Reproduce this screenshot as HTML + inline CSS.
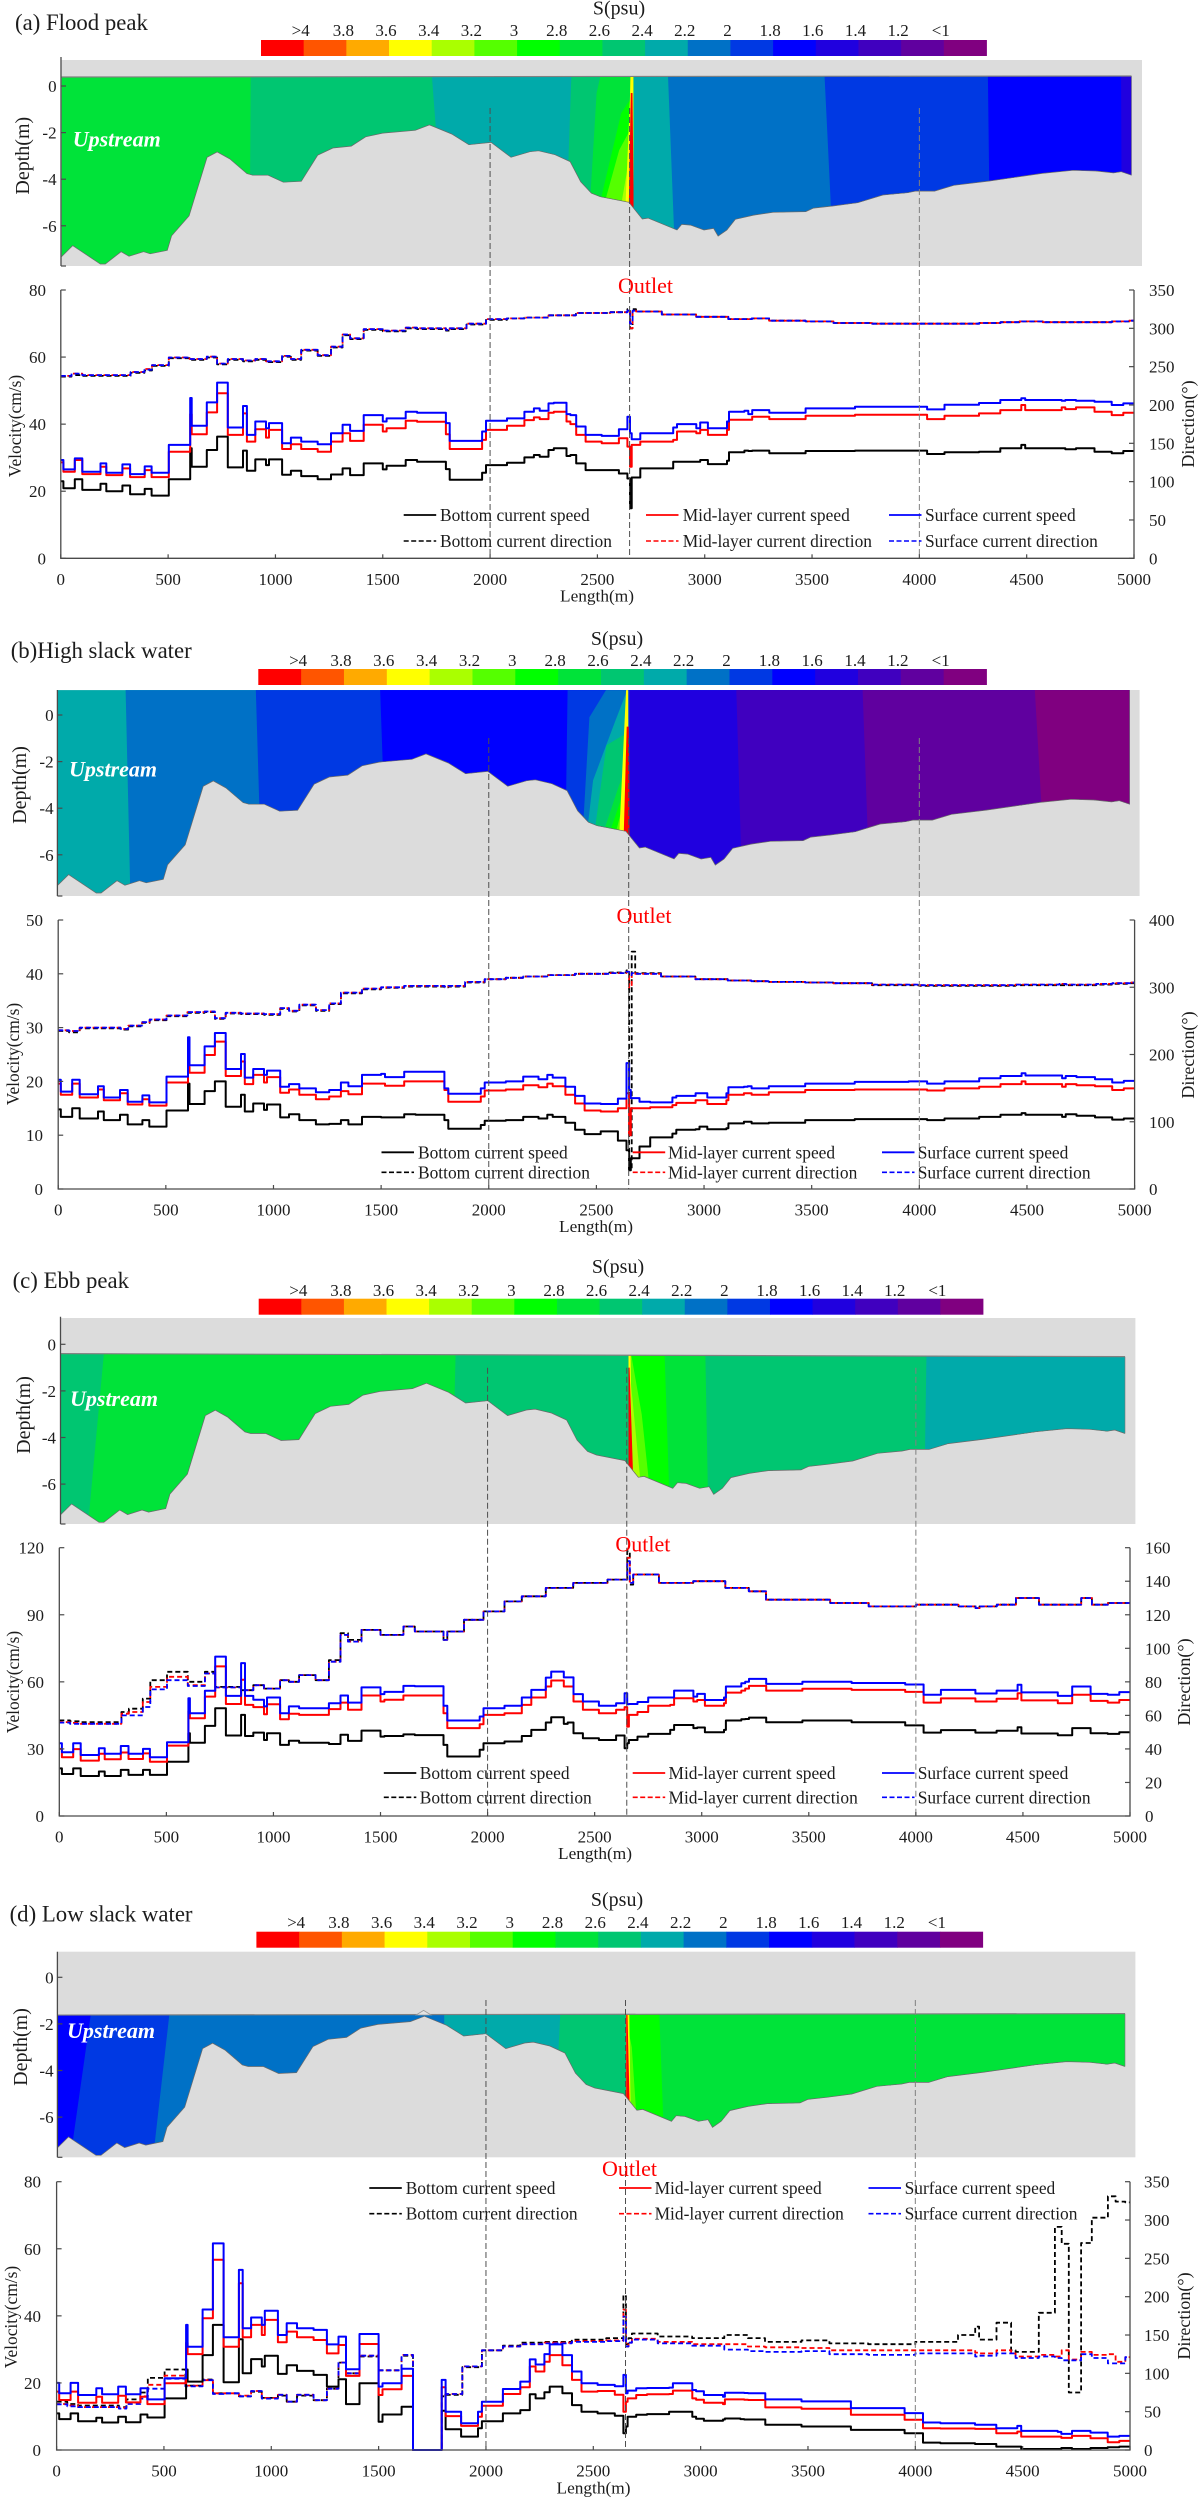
<!DOCTYPE html>
<html lang="en">
<head>
<meta charset="utf-8">
<title>Salinity section and current profiles along the channel</title>
<style>
html,body{margin:0;padding:0;background:#fff;}
#figure{display:block;width:1203px;height:2500px;filter:blur(0.35px);}
text{font-family:"Liberation Serif","Times New Roman",serif;fill:#1c1c1c;}
</style>
</head>
<body>
<svg id="figure" xmlns="http://www.w3.org/2000/svg" width="1203" height="2500" viewBox="0 0 1203 2500"></svg>
<script>
/* ---------- shared category and tick arrays ---------- */
const lengthTicks=[0,500,1000,1500,2000,2500,3000,3500,4000,4500,5000];
const depthTicks=[0,-2,-4,-6];
const guideLengths=[2000,2650,4000];
const salinityLabels=['>4','3.8','3.6','3.4','3.2','3','2.8','2.6','2.4','2.2','2','1.8','1.6','1.4','1.2','<1'];
const salinityColors=['#ff0000','#ff5500','#ffaa00','#ffff00','#aaff00','#55ff00','#00ff00','#00e339','#00c671','#00aaaa','#0071c6','#0039e3','#0000ff','#2000df','#4000bf','#60009f','#800080'];
const legendSpeedLabels=['Bottom current speed','Mid-layer current speed','Surface current speed'];
const legendDirLabels=['Bottom current direction','Mid-layer current direction','Surface current direction'];

/* ---------- channel bed profile (length m, depth m) ---------- */
const bedLengths=[0,52,181,204,278,315,383,414,494,514,596,680,727,786,866,893,965,1036,1120,1197,1268,1354,1421,1501,1653,1719,1823,1903,2007,2100,2189,2229,2306,2377,2426,2476,2517,2651,2714,2741,2876,2898,2939,3002,3047,3068,3109,3149,3235,3325,3478,3514,3604,3721,3838,3954,3990,4080,4170,4332,4583,4727,4834,4916,4952,5000];
const bedDepths=[-7.32,-6.85,-7.64,-7.64,-7.11,-7.31,-7.11,-7.2,-7.05,-6.43,-5.57,-3.06,-2.83,-3.13,-3.76,-3.83,-3.83,-4.13,-4.09,-2.97,-2.66,-2.58,-2.18,-2.02,-1.9,-1.67,-2.06,-2.52,-2.42,-3.06,-2.82,-2.78,-2.95,-3.25,-4.11,-4.6,-4.75,-4.99,-5.71,-5.67,-6.18,-5.94,-5.97,-6.18,-6.11,-6.44,-6.18,-5.72,-5.54,-5.42,-5.39,-5.24,-5.15,-5.01,-4.68,-4.58,-4.51,-4.51,-4.26,-4.08,-3.75,-3.62,-3.65,-3.73,-3.68,-3.83];

/* ---------- salinity zones: [colour level, top length, bottom length] or [colour level, [length, depth, ...]] ---------- */
const zonesA=[[7,0,0],[8,884,878],[9,1725,1800],[8,2385,2350],
 [7,[2535,1.1,2500,-0.3,2466,-5.5,2680,-5.5,2680,1.1]],
 [6,[2615,-1.17,2516,-5,2646,-5.2,2656,-0.6]],
 [5,[2606,-2.75,2538,-5,2642,-5.2,2650,-2]],
 [4,[2646,-3.46,2615,-5.1,2650,-5.1]],
 [3,[2660,1.1,2672,1.1,2672,-5.2,2635,-5.2,2656,-0.6]],
 [0,[2660,-0.3,2668,-0.3,2674,-5.6,2650,-5.6]],
 [9,2673,2673],[10,2831,2870],[11,3562,3610],[12,4328,4340],[13,4951,4955]];
const zonesB=[[9,0,0],[10,318,341],[11,925,955],[12,1505,1540],[11,2379,2365],
 [10,[2481,-0.1,2450,-5,2660,-5.4,2660,1.1,2560,1.1]],
 [9,[2498,-2.8,2470,-5,2650,-5.4,2650,0.9,2600,-0.3]],
 [8,[2560,-1.3,2505,-5,2650,-5.4,2650,-0.8]],
 [7,[2620,-3,2540,-5.2,2650,-5.4,2645,-2.5]],
 [6,[2625,-3.7,2570,-5.2,2650,-5.4,2645,-3.3]],
 [5,[2630,-4.1,2600,-5.2,2650,-5.4]],
 [3,[2652,1.1,2662,1.1,2664,-5.5,2620,-5.2]],
 [0,[2655,-0.5,2664,-0.5,2672,-5.7,2640,-5.5]],
 [13,2668,2668],[14,3166,3195],[15,3755,3790],[16,4558,4615]];
const zonesC=[[8,0,0],[7,219,127],[8,1860,1835],[6,2680,2680],[7,2832,2865],[8,3026,3044],[9,4070,4055],
 [5,[2672,0,2668,-5.8,2765,-6,2730,-3]],
 [4,[2672,-1,2668,-5.8,2725,-6]],
 [3,[2668,1.1,2676,1.1,2684,-5.7,2668,-5.6]],
 [0,[2668,-1,2673,-1,2690,-5.8,2668,-5.7]]];
const zonesD=[[12,0,0],[11,198,57],[10,558,445],[9,1810,1815],[8,2370,2320],[6,2676,2676],[7,2808,2845],
 [5,[2668,-2,2664,-5.4,2712,-6,2690,-3]],
 [3,[2662,0,2676,0,2684,-5.5,2664,-5.3]],
 [0,[2664,-1.6,2670,-1.6,2680,-5.4,2664,-5.3]]];
/* bed crest poking above the low-water surface in panel (d): length, depth pairs */
const crestOutlineD=[1680,-1.62,1715,-1.42,1750,-1.62];

/* ---------- along-channel sample positions ---------- */
const speedLengths=[0,12,65,100,185,212,287,323,391,423,
503,603,610,680,728,778,849,867,906,956,
970,1031,1072,1120,1197,1259,1313,1348,1411,1500,
1518,1607,1660,1794,1812,1884,1963,1981,2079,2160,2204,2231,
2272,2297,2356,2374,2401,2445,2520,2600,2640,2652,
2660,2700,2750,2853,2871,2961,2979,3015,3104,3113,
3185,3203,3221,3301,3470,3700,3950,4036,4117,4278,
4377,4475,4493,4663,4680,4730,4816,4896,4950,5000];
const dirLengths=[0,50,100,290,325,390,425,503,600,680,
728,778,849,906,956,1031,1072,1120,1197,1259,
1313,1348,1411,1500,1607,1660,1794,1812,1890,1981,2079,
2160,2272,2400,2560,2640,2652,2664,2680,2800,2960,
3110,3220,3300,3470,3600,3780,4000,4199,4279,4297,
4378,4446,4467,4575,4650,4682,4715,4772,4822,4897,
4933,4978,5000];

/* ---------- (a) flood peak ---------- */
const velTicksA=[0,20,40,60,80];
const dirTicksA=[0,50,100,150,200,250,300,350];
const bottomSpeedA=[23,20.9,23.6,20.4,22.2,20,21.7,19.1,20.7,18.7,
23.6,32.8,27.3,32.3,36.3,27.1,32.1,26.1,29.5,27.8,
29.5,24.9,26.1,24.5,23.6,25,26.8,24.8,28.3,26.5,
27.6,29.3,28.8,26.6,23.4,23.4,25.5,27.8,28.5,30.1,30.8,30.3,
32.3,32.8,30.5,30.8,28.3,26.3,26.3,25.3,23.8,14.9,
24.1,26.8,26.8,28.8,28.8,28.8,29.3,28.1,29.1,31.6,
32.1,32,32.1,31.3,32,32.1,32.1,31.1,31.6,31.8,
32.8,33.8,32.8,32.8,32.5,32.8,31.8,31.3,32,32];
const midSpeedA=[28.6,25.8,29.3,25.1,27.3,24.8,26.8,24.2,26.3,24.2,
31.8,43,37,43.5,49.2,36.8,43.2,34.8,38.5,36,
38.3,32.6,34,32.6,31.8,34.8,37.3,35,39.8,37.8,
38.8,41,40.7,37,32.6,32.6,35.3,38.3,39.5,41.2,42,41.5,
43.4,43.7,40.8,40,36.8,34.8,34.3,35.8,33.3,27.3,
33.8,34.8,34.8,35.3,37.8,37.3,38.3,36.8,38.3,41.3,
41.3,41.3,42.2,41.5,42.5,42.8,42.8,41.5,42.5,43.2,
44.2,45.7,44.2,45,44.5,45,43.7,42.7,43.4,43.4];
const surfaceSpeedA=[29.3,26.5,29.8,25.8,28.3,25.5,28,25.1,27.4,25.5,
33.8,47.8,39.5,46.5,52.4,39,45.4,36.8,40.8,38.8,
40.3,34.3,36,34.8,34,37.3,39.8,38,42.7,40.8,
41.7,43.7,43.4,40.3,35,35,37.8,41,41.7,43.7,44.7,44,
46.2,46.4,43,42.7,39.3,36.8,36.5,38.5,42.2,37.3,
35.5,37.3,37.3,39,40,38.8,40.5,38.8,40.8,43.7,
44,43,44.2,43.4,44.7,45.2,45.2,44.4,45.8,46.3,
47.2,47.7,47.2,47,47.2,47,46.7,45.7,46.2,46.2];
const bottomDirA=[237,239,238,238,242,245,251,261,259,262,
253,259,257,259,256,263,259,271,264,275,
291,286,298,296,300,299,297,299,305,311,313,
314,317,320,321,325,300,325,322,318,315,
312,313,310,309,307,306,306,306,307,307,
308,308,309,308,308,308,308,308,308,309,
309,310,310];
const midDirA=[238,241,239,239,243,247,252,262,260,263,
254,260,258,260,257,264,260,272,265,276,
292,287,299,297,301,300,298,300,306,312,313,
314,317,320,321,323,300,323,322,318,315,
312,313,310,309,307,306,306,306,307,307,
308,308,309,308,308,308,308,308,308,309,
309,310,310];
const surfaceDirA=[238,241,239,239,243,246,252,262,260,263,
254,260,258,260,257,264,260,272,265,276,
292,287,299,297,301,300,298,300,306,312,313,
314,317,320,321,323,306,323,322,318,315,
312,313,310,309,307,306,306,306,307,307,
308,308,309,308,308,308,308,308,308,309,
309,310,310];

/* ---------- (b) high slack water ---------- */
const velTicksB=[0,10,20,30,40,50];
const dirTicksB=[0,100,200,300,400];
const bottomSpeedB=[14.8,13.4,15,13.1,14.4,12.8,13.8,12,12.8,11.6,
14.6,19.6,15.8,18.2,20,15.3,17.5,14.4,15.9,14.7,
15.7,13.3,13.9,12.8,12,12.1,12.8,12,13.4,13.3,
13.3,13.9,13.8,12.8,11.2,11.2,11.9,12.7,12.8,13.4,13.4,13.1,
13.8,13.4,12.3,12.3,11,10.2,10.7,9,7.2,3.5,
5.7,7.9,9.6,10.3,11,11.1,11.6,11.1,11.3,12.2,
12.5,12.5,12.2,12.3,12.8,13,13,12.8,13.1,13.4,
13.8,14.1,13.8,13.4,13.9,13.6,13.3,12.9,13.1,13.1];
const midSpeedB=[19.6,17.5,19.6,17,18.5,16.5,17.8,15.7,16.7,15.5,
19.8,22.7,21.6,24.9,27.4,21,23.7,19.5,21.2,19.8,
20.8,17.9,18.5,17.5,16.7,17.2,18.2,17.6,19.6,19.6,
19.2,20,20,18.4,16.2,16.2,17.2,18.3,18.5,19.3,19.3,18.9,
19.6,19.1,17.5,17.5,15.9,14.6,14.4,15,17.8,10,
15,15,15.2,15.6,16,16.5,16.5,15.8,16.5,17.5,
17.8,17.8,17.5,18,18.4,18.5,18.5,18.3,18.7,19,
19.5,20,19.5,19,19.5,19.3,19.1,18.4,18.7,18.7];
const surfaceSpeedB=[20.3,18.1,20.3,17.6,19.1,17,18.4,16.2,17.4,16.1,
20.9,28.2,23,26.5,29,22.3,25.1,20.7,22.3,21.2,
22,19,19.5,18.7,18,18.4,19.8,19.1,21.2,21.4,
20.8,21.8,21.8,18.7,17.7,17.7,18.7,19.8,20,20.9,20.9,20.4,
21.2,20.7,19,19,17.3,15.9,15.8,16.8,23.4,18.4,
16.9,16.2,16.1,17,17.3,17.8,17.8,17,17.8,18.9,
19,19.1,18.7,19.1,19.6,19.9,20,19.6,20,20.6,
21,21.5,21.1,20.6,21,20.8,20.4,19.8,20.1,20.1];
const bottomDirB=[235,233,239,237,242,247,251,257,262,263,
253,261,260,260,259,268,264,273,265,275,
291,291,297,299,301,301,300,301,307,312,314,
316,318,320,322,325,30,353,321,316,312,
310,309,308,307,306,303,302,302,302,302,
302,303,303,303,303,303,303,303,304,305,
305,306,306];
const midDirB=[236,235,240,238,243,248,252,258,263,264,
254,262,261,261,260,269,265,274,266,276,
292,292,298,300,302,302,301,302,308,312,314,
316,318,320,321,323,300,321,320,316,312,
310,309,308,307,306,304,303,303,303,303,
303,304,304,304,305,304,304,304,305,306,
306,307,307];
const surfaceDirB=[236,235,240,238,243,248,252,258,263,264,
254,262,261,261,260,269,265,274,266,276,
292,292,298,300,302,302,301,302,308,312,314,
316,318,320,321,323,318,321,320,316,312,
310,309,308,307,306,304,303,303,303,303,
303,304,304,304,305,304,304,304,305,306,
306,307,307];

/* ---------- (c) ebb peak ---------- */
const velTicksC=[0,30,60,90,120];
const dirTicksC=[0,20,40,60,80,100,120,140,160];
const bottomSpeedC=[21.3,18.8,21.3,17.9,19.9,17.9,20.6,18.4,20.6,18.4,
24.3,37,32.8,40.3,48.2,36,45.2,35.8,37.3,34,
37,31.8,33.7,32.8,32.8,32.2,36.3,33.6,38.2,35.5,
35.8,36.5,36.2,31.8,26.6,26.6,29.6,32.5,33.3,35.8,38.5,38.5,
41.8,44.2,41.2,41.8,37,34.8,34,36,30.3,32.5,
34,35.5,36.7,38.5,40.7,39.3,39.6,37.5,38.5,42.7,
43.3,43.4,44,41.9,42.7,41.9,40.5,37.3,38.4,37.3,
38.1,39.7,36.9,36.1,36.1,39.3,37,36.7,37.5,37.5];
const midSpeedC=[30,26.3,29.9,24.8,27.8,25.4,28.4,25.5,28,24.3,
31.5,47,43.7,53.4,66.9,50.1,60.9,49.7,48.7,45.5,
50,43.3,45.7,45.2,45.2,47.8,50.7,47.5,53.9,51.2,
52,53.9,53.9,46,39.3,39.3,41,45.2,46,49.7,53,53,
57.9,60.6,57.9,57.9,51.2,47.5,46,47.5,48.7,40,
45.2,46.5,49.3,49.7,52.7,51.2,51.9,49.3,50.4,55.2,
56.1,57,58.2,56.1,56.9,56.4,55.5,50.7,52.6,51.2,
52.4,54.9,51.7,50.4,50.4,54.2,51.5,50.7,51.9,51.9];
const surfaceSpeedC=[32.5,28.5,32.5,27.3,30.3,27.8,31.3,27.8,30,26.3,
33,52.7,46,56,71.3,53.7,68.4,53.7,52,49,
53,46,49,48.2,48.2,50.4,53.9,50.7,57.5,54.5,
55.5,58.2,58,49.3,42.7,42.7,44.5,48.2,49.3,53,56.4,56.4,
61.9,64.6,62,62,54.5,51.2,49.3,50.4,54.9,50,
50.1,51,53,53,56.1,53.4,54.6,51.9,53,57.9,
59.4,60,61.3,59.1,60,59.5,58.8,54.2,56.4,54.8,
56.1,58.7,55.3,53.7,53.7,57.9,54.6,54.2,55.4,55.4];
const bottomDirC=[57,56.5,56,62,64,70,81,86,80,86,
77,77,75,78,76,81,80,84,81,93,
109,105,111,108,113,110,105,110,117,122,128,
131,136,139,141,141,158,138,144,139,140,
136,134,129,129,127,125,126,125,124,125,
126,126,130,126,126,126,126,130,126,127,
127,127,127];
const midDirC=[56,55.5,55,61,62,68,77,83,78,85,
76.7,76.7,75,78,76,81,80,84,81,92,
108,104,111,108,113,110,105,110,117,122,128,
131,136,139,141,141,154,139,144,139,140,
136,134,129,129,127,125,126,125,124,125,
126,126,130,126,126,126,126,130,126,127,
127,127,127];
const surfaceDirC=[55.7,55,55,60,60,65,75.5,81,77.5,85,
76.7,76.7,75,78,76,81,80,84,81,92,
108,104,111,108,113,110,105,110,117,122,128,
131,136,139,141,141,152,139,144,139,140,
136,134,129,129,127,125,126,125,124,125,
126,126,130,126,126,126,126,130,126,127,
127,127,127];

/* ---------- (d) low slack water ---------- */
const velTicksD=[0,20,40,60,80];
const dirTicksD=[0,50,100,150,200,250,300,350];
const bottomSpeedD=[10.9,9.2,10.9,8.6,9.6,8.2,9.9,8.3,10.6,9.7,
15.4,24,20.4,28.3,37.3,20.2,33,22.9,27.1,24.9,
28.1,22.7,25.3,23.6,22.4,18.9,21.1,13.7,19.9,8.4,
10.6,12.9,0,11.7,6.2,4,6.5,8.6,10.9,11.9,16.6,15.4,
17.2,18.9,16.9,16.9,13.4,11.4,10.9,10.2,5,7,
9.9,10.5,10.7,11.4,11.4,9.9,9.3,8.7,9.1,9.4,
9.2,9.1,9.1,7.5,7,6,5,2.2,2,1.8,
1,1,0.3,0.3,0.6,0.3,0.6,0.8,1,1];
const midSpeedD=[17.4,14.9,17.4,14.1,15.9,14.1,16.2,14.2,15.9,13.7,
19.9,32,28.6,39.3,56.7,30.8,49.7,33.6,37.3,34.3,
38.8,32.1,35.3,33.6,32.8,28.8,31.3,22.1,31.6,16.4,
18.1,22.1,0,18.7,10.1,7.2,9.9,13.2,16.7,18.7,24.9,23.4,
26.3,28.3,25.3,25.3,20.9,17.4,17.6,16.5,11.4,14.4,
15.4,16.4,16.6,16.7,17.7,15.4,15,14.1,13.7,15.1,
15.1,15,14.9,12.7,12.3,10.5,9,6.5,6.4,6.3,
5,5.5,4,4,3.6,4.2,3.5,2.3,2.7,2.7];
const surfaceSpeedD=[20,16.9,20,16.4,18.4,16.6,18.9,16.6,18.4,15.1,
21.4,37.3,30.8,41.9,61.6,33.6,53.7,36.3,39.5,37.3,
41.5,34.3,37.8,36.3,35.8,31.5,33.8,24.1,34.6,18.9,
19.9,24.2,0,20.9,11.4,8,11.4,14.4,18.2,20.4,27,25.5,
28.6,31.5,28.3,28.3,23.4,19.9,19.4,19,22.4,16.9,
17.7,18.4,18.5,18.6,19.9,17.9,17.5,16.4,15.9,17.1,
17.1,17,16.9,15.1,14.5,12.5,11,8.2,8,7.5,
6.5,7.2,5.7,5.4,4.8,5.7,5.2,4,4.2,4.2];
const bottomDirD=[63,60,58,56,66,75,94,105,84,92,
74,74,70,76,68,71,63,71,65,80,
114,100,122,104,123,0,70,72,108,130,136,
140,141,144,146,202,138,146,152,148,146,
150,146,141,143,139,138,141,150,161,144,
166,130,128,179,291,269,75,270,303,331,
324,323,323];
const midDirD=[60,58,56,55,62,70,85,97,84,91,
74,74,71,77,68,72,63,72,65,80,
114,100,123,104,124,0,72,73,109,130,135,
138,140,142,143,183,135,140,145,141,138,
138,135,134,133,130,130,130,130,127,126,
130,126,122,124,122,130,118,128,124,125,
115,121,121];
const surfaceDirD=[59.6,57,56,54,60,67,80,93,83,91,
73,74,70,77,67,72,63,72,65,80,
114,100,123,104,124,0,72,73,109,130,135,
138,139,141,142,174,135,140,144,139,136,
131,129,128,129,125,124,126,126,122,123,
126,126,120,122,120,117,117,125,120,113,
113,121,121];

/* ---------- panel layout (pixels) ---------- */
const layoutA={id:'a',title:'(a) Flood peak',titleX:15,titleY:30,barX0:261,barX1:986.5,barY0:40,barY1:56,barLabelY:36,sX:619,sY:14.7,
 grayX0:61.6,grayX1:1142,grayY0:60,grayY1:266,waterX0:61.6,waterX1:1131.5,zeroY:86,dAxisX:61,dAxisTop:57,surfL:0.386,surfR:0.43,drawSurf:true,
 depthLabelX:29,depthLabelY:155.7,depthTickEnd:56.6,upX:72.7,upY:146.7,
 velX0:60.8,velX1:1134,velTop:290,velBottom:558.3,velLabelX:21,velLabelY:426,velTickEnd:46,dirTickStart:1149,dirLabelX:1194,dirLabelY:424,
 xLabelY:585,lengthX:597,lengthY:601.7,guideTop:108,outletX:618,outletY:293,
 legendRow1:515,legendRow2:541,legendLine:[403.7,646,889],legendLen:32.5,legendText:[440,682.7,925]};
const layoutB={id:'b',title:'(b)High slack water',titleX:10.7,titleY:658,barX0:258.3,barX1:986.5,barY0:669,barY1:685,barLabelY:666,sX:617,sY:645,
 grayX0:57.4,grayX1:1139.6,grayY0:690,grayY1:896,waterX0:57.4,waterX1:1129.6,zeroY:715,dAxisX:57.4,dAxisTop:690,surfL:1.07,surfR:1.07,drawSurf:false,
 depthLabelX:26,depthLabelY:785,depthTickEnd:53.6,upX:69,upY:776.7,
 velX0:58.2,velX1:1134.6,velTop:920,velBottom:1189,velLabelX:19,velLabelY:1054,velTickEnd:43,dirTickStart:1149,dirLabelX:1194,dirLabelY:1055,
 xLabelY:1215.7,lengthX:596,lengthY:1232,guideTop:738,outletX:616.5,outletY:923,
 legendRow1:1152.3,legendRow2:1172.3,legendLine:[381.5,632.7,882],legendLen:32.5,legendText:[418,668,917.7]};
const layoutC={id:'c',title:'(c) Ebb peak',titleX:12.6,titleY:1288,barX0:258.7,barX1:983,barY0:1298.7,barY1:1314.7,barLabelY:1296,sX:618,sY:1273,
 grayX0:60.5,grayX1:1135.4,grayY0:1318,grayY1:1524,waterX0:60.5,waterX1:1125,zeroY:1344.3,dAxisX:60.5,dAxisTop:1316.7,surfL:-0.4,surfR:-0.53,drawSurf:true,
 depthLabelX:30,depthLabelY:1415,depthTickEnd:56,upX:70,upY:1406,
 velX0:59.3,velX1:1130,velTop:1547.7,velBottom:1816,velLabelX:19,velLabelY:1682,velTickEnd:44,dirTickStart:1145,dirLabelX:1190,dirLabelY:1682,
 xLabelY:1842.7,lengthX:595,lengthY:1859,guideTop:1367.7,outletX:615.4,outletY:1551.7,
 legendRow1:1773,legendRow2:1797.3,legendLine:[383.8,632.7,882],legendLen:32.5,legendText:[419.8,668.5,917.7]};
const layoutD={id:'d',title:'(d) Low slack water',titleX:9.6,titleY:1921.7,barX0:256.4,barX1:982.7,barY0:1931.7,barY1:1947.7,barLabelY:1928,sX:617,sY:1906,
 grayX0:57.4,grayX1:1135.4,grayY0:1951.7,grayY1:2157.3,waterX0:57.4,waterX1:1125,zeroY:1977.3,dAxisX:57.4,dAxisTop:1951.7,surfL:-1.62,surfR:-1.56,drawSurf:true,
 depthLabelX:26.8,depthLabelY:2047,depthTickEnd:53.6,upX:67,upY:2038,
 velX0:56.6,velX1:1130,velTop:2181.7,velBottom:2450,velLabelX:17,velLabelY:2317,velTickEnd:41,dirTickStart:1144,dirLabelX:1190,dirLabelY:2316,
 xLabelY:2476.7,lengthX:593.5,lengthY:2493.3,guideTop:2000,outletX:602,outletY:2176,
 legendRow1:2188,legendRow2:2213.7,legendLine:[369.3,619,868.5],legendLen:32.5,legendText:[405.7,654.6,904.6],crest:crestOutlineD};

const NS='http://www.w3.org/2000/svg';
const root=document.getElementById('figure');
const AXIS='#4a4a4a';
const DEPTH_PX=23.3;

function mk(tag,parent,attrs){
  const el=document.createElementNS(NS,tag);
  for(const k in attrs){el.setAttribute(k,attrs[k]);}
  parent.appendChild(el);
  return el;
}
function label(parent,str,x,y,size,extra,name){
  const t=mk('text',parent,Object.assign({x:x,y:y,'font-size':size},extra||{}));
  
  
  t.textContent=str;
  return t;
}
function rotLabel(parent,str,x,y,size,name){
  return label(parent,str,x,y,size,{'text-anchor':'middle',transform:'rotate(-90 '+x+' '+y+')'},name);
}
function stepPath(lengths,values,xf,yf){
  let d='M'+xf(lengths[0]).toFixed(1)+' '+yf(values[0]).toFixed(1);
  for(let i=1;i<lengths.length;i++){
    if(values[i]===undefined)break;
    d+='H'+xf(lengths[i]).toFixed(1)+'V'+yf(values[i]).toFixed(1);
  }
  return d;
}

function drawColorbar(g,L){
  const seg=(L.barX1-L.barX0)/salinityColors.length;
  salinityColors.forEach(function(c,i){
    const r=mk('rect',g,{x:L.barX0+i*seg,y:L.barY0,width:seg+0.4,height:L.barY1-L.barY0,fill:c});
    
    
  });
  salinityLabels.forEach(function(s,i){
    label(g,s,L.barX0+(i+1)*seg-3,L.barLabelY,17,{'text-anchor':'middle'},'salinity-tick-label');
  });
  label(g,'S(psu)',L.sX,L.sY,20,{'text-anchor':'middle'},'salinity-scale-title');
}

function drawSection(g,L,zones){
  const sx=function(m){return L.waterX0+m*(L.waterX1-L.waterX0)/5000;};
  const sy=function(d){return L.zeroY-DEPTH_PX*d;};
  const bg=mk('rect',g,{x:L.grayX0,y:L.grayY0,width:L.grayX1-L.grayX0,height:L.grayY1-L.grayY0,fill:'#dcdcdc'});
  
  

  let pts=sx(0)+','+sy(L.surfL)+' '+sx(5000)+','+sy(L.surfR);
  for(let i=bedLengths.length-1;i>=0;i--){pts+=' '+sx(bedLengths[i]).toFixed(1)+','+sy(bedDepths[i]).toFixed(1);}
  const clip=mk('clipPath',g,{id:'water-clip-'+L.id});
  mk('polygon',clip,{points:pts});

  const water=mk('g',g,{'clip-path':'url(#water-clip-'+L.id+')'});
  
  
  zones.forEach(function(z){
    let p;
    if(Array.isArray(z[1])){
      p='';
      for(let i=0;i<z[1].length;i+=2){p+=sx(z[1][i]).toFixed(1)+','+sy(z[1][i+1]).toFixed(1)+' ';}
    }else{
      p=sx(z[1]).toFixed(1)+','+sy(1.1).toFixed(1)+' '+sx(5050)+','+sy(1.1).toFixed(1)+' '+sx(5050)+','+sy(-8).toFixed(1)+' '+sx(z[2]).toFixed(1)+','+sy(-8).toFixed(1);
    }
    const poly=mk('polygon',water,{points:p,fill:salinityColors[z[0]]});
    
    
  });

  let bedPts='';
  for(let i=0;i<bedLengths.length;i++){bedPts+=sx(bedLengths[i]).toFixed(1)+','+sy(bedDepths[i]).toFixed(1)+' ';}
  const bed=mk('polyline',g,{points:bedPts,fill:'none',stroke:'#6a6a6a','stroke-width':0.7});
  
  

  if(L.drawSurf){
    const surf=mk('line',g,{x1:sx(0),y1:sy(L.surfL),x2:sx(5000),y2:sy(L.surfR),stroke:'#808080','stroke-width':1.2});
    
    
  }
  if(L.crest){
    let c='';
    for(let i=0;i<L.crest.length;i+=2){c+=sx(L.crest[i]).toFixed(1)+','+sy(L.crest[i+1]).toFixed(1)+' ';}
    const crest=mk('polygon',g,{points:c,fill:'#e4e4e4',stroke:'#9a9a9a','stroke-width':0.8});
    
    
  }
  const rightEdge=mk('line',g,{x1:sx(5000),y1:sy(L.surfR),x2:sx(5000),y2:sy(-3.83),stroke:'#777','stroke-width':0.6});
  
  

  const axis=mk('line',g,{x1:L.dAxisX,y1:L.dAxisTop,x2:L.dAxisX,y2:L.grayY1,stroke:AXIS,'stroke-width':1.3});
  
  
  depthTicks.forEach(function(d){
    const t=mk('line',g,{x1:L.dAxisX,y1:sy(d),x2:L.dAxisX+5,y2:sy(d),stroke:AXIS,'stroke-width':1.2});
    
    
    label(g,String(d),L.depthTickEnd,sy(d)+6,17,{'text-anchor':'end'},'depth-tick-label');
  });
  const endTick=mk('line',g,{x1:L.dAxisX,y1:L.grayY1,x2:L.dAxisX+5,y2:L.grayY1,stroke:AXIS,'stroke-width':1.2});
  
  
  rotLabel(g,'Depth(m)',L.depthLabelX,L.depthLabelY,20,'depth-axis-title');
  label(g,'Upstream',L.upX,L.upY,22,{'font-weight':'bold','font-style':'italic',style:'fill:#fff'},'upstream-label');
}

function drawProfile(g,L,velTicks,dirTicks,series){
  const velMax=velTicks[velTicks.length-1];
  const dirMax=dirTicks[dirTicks.length-1];
  const xf=function(m){return L.velX0+m*(L.velX1-L.velX0)/5000;};
  const yv=function(v){return L.velBottom-v*(L.velBottom-L.velTop)/velMax;};
  const yd=function(v){return L.velBottom-v*(L.velBottom-L.velTop)/dirMax;};

  series.dirs.forEach(function(s){
    const p=mk('path',g,{d:stepPath(dirLengths,s.values,xf,yd),fill:'none',stroke:s.color,'stroke-width':1.8,'stroke-dasharray':'5 3','stroke-dashoffset':s.offset,'stroke-linejoin':'round'});
    
    
  });
  series.speeds.forEach(function(s){
    const p=mk('path',g,{d:stepPath(speedLengths,s.values,xf,yv),fill:'none',stroke:s.color,'stroke-width':2,'stroke-linejoin':'round'});
    
    
  });

  guideLengths.forEach(function(m,i){
    const v=mk('line',g,{x1:xf(m),y1:L.guideTop,x2:xf(m),y2:L.velBottom,stroke:i===2?'#808080':'#4f4f4f','stroke-width':1,'stroke-dasharray':'6 3'});
    
    
  });

  const axes=mk('path',g,{d:'M'+L.velX0+' '+L.velTop+'V'+L.velBottom+'H'+L.velX1+'V'+L.velTop,fill:'none',stroke:AXIS,'stroke-width':1.3});
  
  

  velTicks.forEach(function(v){
    const t=mk('line',g,{x1:L.velX0,y1:yv(v),x2:L.velX0+5,y2:yv(v),stroke:AXIS,'stroke-width':1.2});
    
    
    label(g,String(v),L.velTickEnd,yv(v)+6,17,{'text-anchor':'end'},'velocity-tick-label');
  });
  dirTicks.forEach(function(v){
    const t=mk('line',g,{x1:L.velX1-5,y1:yd(v),x2:L.velX1,y2:yd(v),stroke:AXIS,'stroke-width':1.2});
    
    
    label(g,String(v),L.dirTickStart,yd(v)+6,17,{},'direction-tick-label');
  });
  lengthTicks.forEach(function(m){
    const t=mk('line',g,{x1:xf(m),y1:L.velBottom-4,x2:xf(m),y2:L.velBottom,stroke:AXIS,'stroke-width':1.2});
    
    
    label(g,String(m),xf(m),L.xLabelY,17,{'text-anchor':'middle'},'length-tick-label');
  });

  rotLabel(g,'Velocity(cm/s)',L.velLabelX,L.velLabelY,17.4,'velocity-axis-title');
  rotLabel(g,'Direction(°)',L.dirLabelX,L.dirLabelY,18,'direction-axis-title');
  label(g,'Length(m)',L.lengthX,L.lengthY,17.3,{'text-anchor':'middle'},'length-axis-title');
  label(g,'Outlet',L.outletX,L.outletY,22,{style:'fill:#f00'},'outlet-label');

  ['#000000','#ff0000','#0000ff'].forEach(function(c,i){
    const a=mk('line',g,{x1:L.legendLine[i],y1:L.legendRow1,x2:L.legendLine[i]+L.legendLen,y2:L.legendRow1,stroke:c,'stroke-width':1.8});
    
    
    label(g,legendSpeedLabels[i],L.legendText[i],L.legendRow1+6,17.4,{},'legend-speed-label');
    const b=mk('line',g,{x1:L.legendLine[i],y1:L.legendRow2,x2:L.legendLine[i]+L.legendLen,y2:L.legendRow2,stroke:c,'stroke-width':1.6,'stroke-dasharray':'5 2.5'});
    
    
    label(g,legendDirLabels[i],L.legendText[i],L.legendRow2+6,17.4,{},'legend-direction-label');
  });
}

function drawPanel(L,zones,velTicks,dirTicks,series){
  const g=mk('g',root,{});
  
  
  label(g,L.title,L.titleX,L.titleY,22.8,{},'panel-title');
  drawColorbar(g,L);
  drawSection(g,L,zones);
  drawProfile(g,L,velTicks,dirTicks,series);
}

function bundle(bs,ms,ss,bd,md,sd){
  return {
    speeds:[
      {name:'bottom-current-speed-line',color:'#000000',values:bs},
      {name:'mid-layer-current-speed-line',color:'#ff0000',values:ms},
      {name:'surface-current-speed-line',color:'#0000ff',values:ss}],
    dirs:[
      {name:'bottom-current-direction-line',color:'#000000',values:bd,offset:0},
      {name:'mid-layer-current-direction-line',color:'#ff0000',values:md,offset:1.5},
      {name:'surface-current-direction-line',color:'#0000ff',values:sd,offset:0}]
  };
}

drawPanel(layoutA,zonesA,velTicksA,dirTicksA,bundle(bottomSpeedA,midSpeedA,surfaceSpeedA,bottomDirA,midDirA,surfaceDirA));
drawPanel(layoutB,zonesB,velTicksB,dirTicksB,bundle(bottomSpeedB,midSpeedB,surfaceSpeedB,bottomDirB,midDirB,surfaceDirB));
drawPanel(layoutC,zonesC,velTicksC,dirTicksC,bundle(bottomSpeedC,midSpeedC,surfaceSpeedC,bottomDirC,midDirC,surfaceDirC));
drawPanel(layoutD,zonesD,velTicksD,dirTicksD,bundle(bottomSpeedD,midSpeedD,surfaceSpeedD,bottomDirD,midDirD,surfaceDirD));
</script>
</body>
</html>
